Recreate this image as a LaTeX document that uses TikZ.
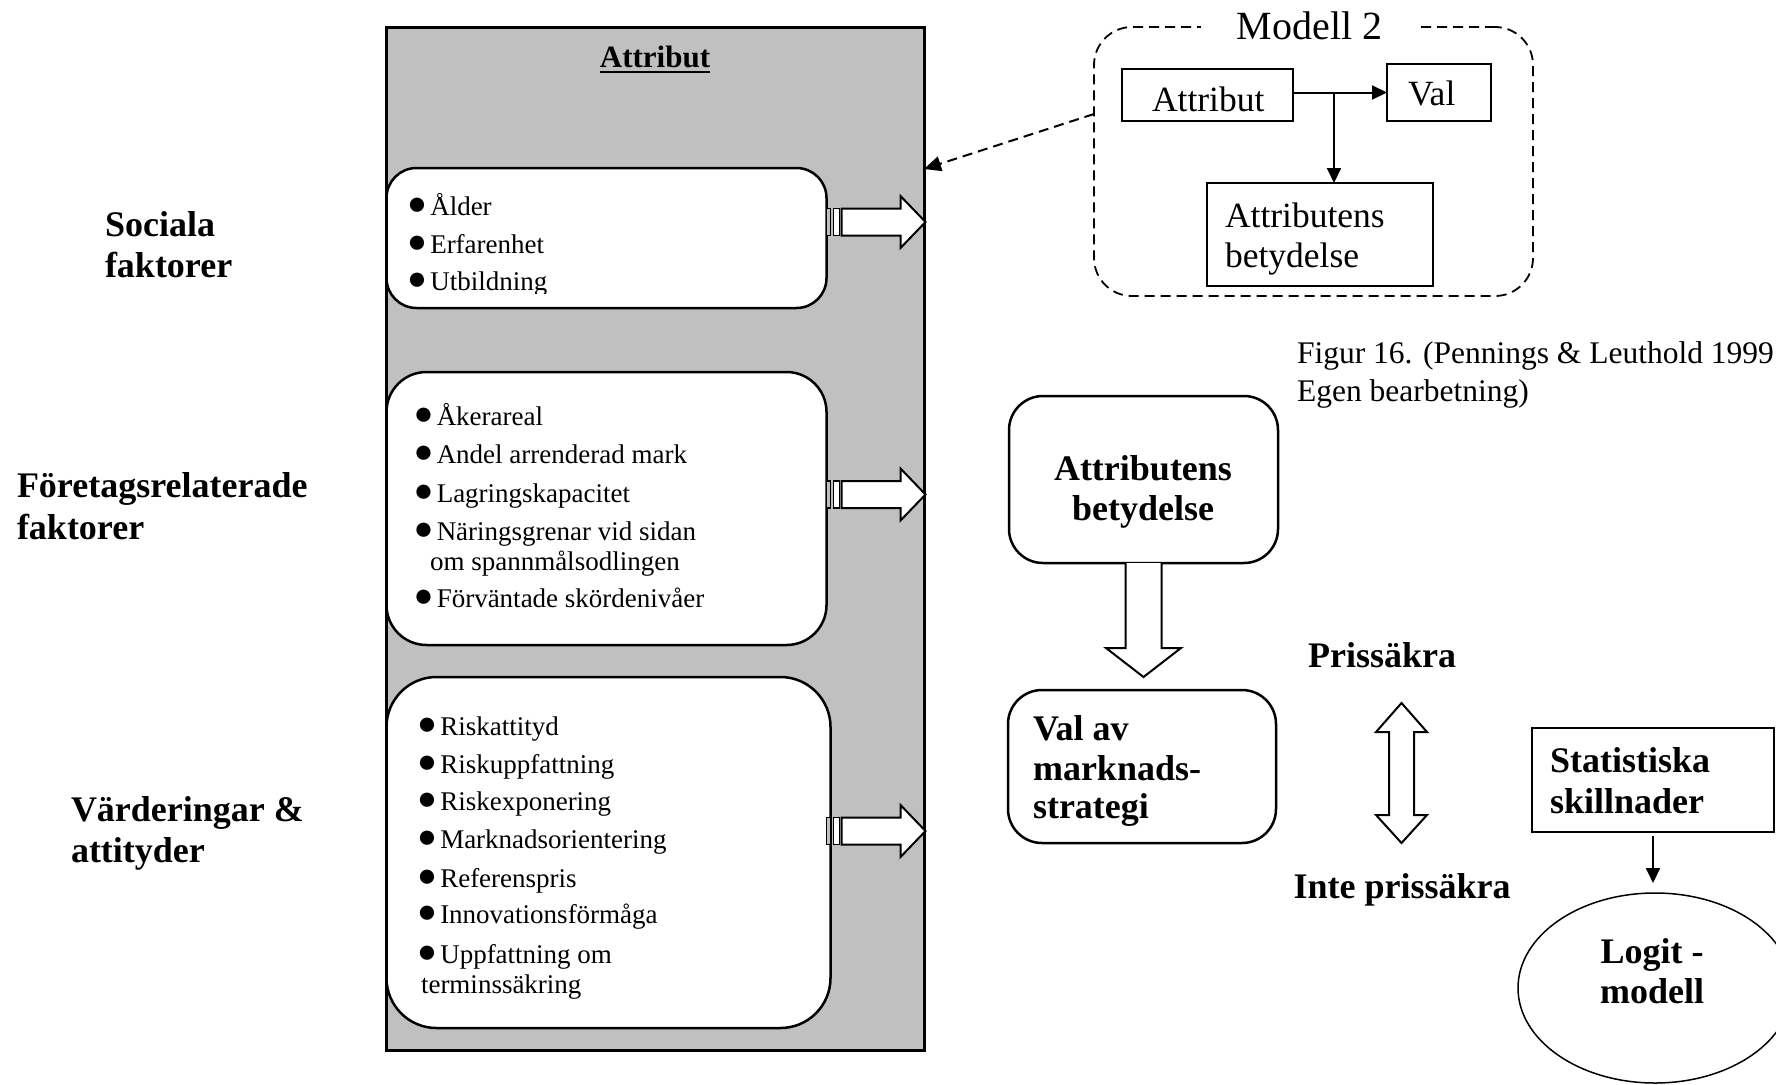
\documentclass[tikz,border=0pt]{standalone}
\usepackage{fontspec}
\setmainfont{Liberation Serif}
\usetikzlibrary{arrows.meta,shapes.geometric,calc}
\definecolor{attrgray}{HTML}{C0C0C0}
% large round list bullet followed by a space
\newcommand{\blt}{\makebox[13pt][c]{\raisebox{1pt}{\fontsize{33}{33}\selectfont ●}}\ }

\begin{document}
\begin{tikzpicture}[x=1pt,y=-1pt,
  every node/.style={inner sep=0pt, outer sep=0pt},
  txt/.style={anchor=base west, font=\fontsize{27}{32}\selectfont},
  sidelbl/.style={anchor=base west, font=\bfseries\fontsize{36}{41}\selectfont},
  boldc/.style={anchor=base, font=\bfseries\fontsize{36}{41}\selectfont},
  boldl/.style={anchor=base west, font=\bfseries\fontsize{36}{41}\selectfont},
  mtxt/.style={anchor=base west, font=\fontsize{35.5}{40}\selectfont},
  captxt/.style={anchor=base west, font=\fontsize{31.5}{36}\selectfont},
  rbox/.style={draw, line width=2.5pt, fill=white, rounded corners=#1},
  sqbox/.style={draw, line width=2pt, fill=white},
  tri/.style={-{Triangle[length=15pt,width=14pt]}},
  blockarrow/.style={draw, line width=2pt, fill=white, line join=miter},
  stripearrow/.pic={
    \draw[line width=1.5pt, fill=attrgray] (0,-13.5) rectangle (4,13.5);
    \draw[line width=1.5pt, fill=white] (7,-13.5) rectangle (13,13.5);
    \draw[line width=2pt, fill=white, line join=miter]
      (15,-13.5) -- (74,-13.5) -- (74,-26) -- (99,0) -- (74,26) -- (74,13.5) -- (15,13.5) -- cycle;
  },
]
\useasboundingbox (0,0) rectangle (1776,1084);
\clip (0,0) rectangle (1776,1084);

% ---------- attribute panel ----------
\node[draw, line width=3pt, fill=attrgray, minimum width=538pt, minimum height=1023pt] (grey) at (655,538.5) {};
\node[anchor=base, font=\bfseries\fontsize{31}{36}\selectfont] (attrtitle) at (655,67) {Attribut};
\draw[line width=2.5pt] ([yshift=-5pt]attrtitle.base west) -- ([yshift=-5pt]attrtitle.base east);

\node[rbox=30pt, minimum width=440pt, minimum height=140pt] (soc) at (606.5,238) {};
\node[rbox=40pt, minimum width=440pt, minimum height=273pt] (ftg) at (606.5,508.5) {};
\node[rbox=50pt, minimum width=444pt, minimum height=351pt] (vrd) at (608.5,852.5) {};

% social factors
\node[txt] (s1) at (410.5,215) {\blt Ålder};
\node[txt] (s2) at (410.5,253) {\blt Erfarenhet};
\begin{scope}
  \clip (380,150) rectangle (840,293);
  \node[txt] (s3) at (410.5,290) {\blt Utbildning};
\end{scope}

% company related factors
\node[txt] (f1) at (417,425) {\blt Åkerareal};
\node[txt] (f2) at (417,463) {\blt Andel arrenderad mark};
\node[txt] (f3) at (417,502) {\blt Lagringskapacitet};
\node[txt] (f4) at (417,540) {\blt Näringsgrenar vid sidan};
\node[txt] (f4b) at (430,570) {om spannmålsodlingen};
\node[txt] (f5) at (417,607) {\blt Förväntade skördenivåer};

% values and attitudes
\node[txt] (v1) at (420.5,735) {\blt Riskattityd};
\node[txt] (v2) at (420.5,773) {\blt Riskuppfattning};
\node[txt] (v3) at (420.5,810) {\blt Riskexponering};
\node[txt] (v4) at (420.5,848) {\blt Marknadsorientering};
\node[txt] (v5) at (420.5,887) {\blt Referenspris};
\node[txt] (v6) at (420.5,923) {\blt Innovationsförmåga};
\node[txt] (v7) at (420.5,963) {\blt Uppfattning om};
\node[txt] (v7b) at (421,993) {terminssäkring};

% striped block arrows out of the panel
\pic at ([yshift=16pt]soc.east) {stripearrow};
\pic at ([yshift=14pt]ftg.east) {stripearrow};
\pic at ([xshift=-4pt,yshift=21.5pt]vrd.east) {stripearrow};

% ---------- side labels ----------
\node[sidelbl] (l1a) at (105,236) {Sociala};
\node[sidelbl] (l1b) at (105,277) {faktorer};
\node[sidelbl] (l2a) at (17,497) {Företagsrelaterade};
\node[sidelbl] (l2b) at (17,539) {faktorer};
\node[sidelbl] (l3a) at (71,821) {Värderingar \&};
\node[sidelbl] (l3b) at (71,862) {attityder};

% ---------- Modell 2 ----------
\node[draw, line width=1.8pt, dash pattern=on 10pt off 6pt, rounded corners=38pt,
      minimum width=439pt, minimum height=269pt] (modell) at (1313.5,161.5) {};
\node[anchor=base, fill=white, inner xsep=36pt, inner ysep=3pt,
      font=\fontsize{40}{44}\selectfont] (mtitle) at (1309.5,39) {Modell 2};
\node[sqbox, minimum width=171pt, minimum height=52pt] (mattr) at (1207.5,95) {};
\node[sqbox, minimum width=104pt, minimum height=57pt] (mval) at (1439,92.5) {};
\node[sqbox, minimum width=226pt, minimum height=103pt] (mabet) at (1320,234.5) {};
\node[mtxt] (mattrt) at (1152,111) {Attribut};
\node[mtxt] (mvalt) at (1408,105) {Val};
\node[mtxt] (mabet1) at (1225,227) {Attributens};
\node[mtxt] (mabet2) at (1225,267) {betydelse};

\draw[line width=2pt, tri] (mattr.east |- mval.west) -- (mval.west);
\coordinate (mbr) at ($(mattr.east |- mval.west)!0.436!(mval.west)$);
\draw[line width=2pt, tri] (mbr) -- (mbr |- mabet.north);
\draw[line width=2pt, dash pattern=on 10pt off 6pt, -{Triangle[length=17pt,width=15pt]}]
  ([yshift=47.5pt]modell.west) -- ([yshift=-142pt]grey.north east);

% caption
\node[captxt] (cap1) at (1297,363) {Figur 16. (Pennings \& Leuthold 1999};
\node[captxt] (cap2) at (1297,401) {Egen bearbetning)};

% ---------- right-hand flow ----------
\node[rbox=34pt, minimum width=269pt, minimum height=167pt] (abet) at (1143.5,479.5) {};
\node[boldc] (abet1) at (1143,480) {Attributens};
\node[boldc] (abet2) at (1143,520) {betydelse};

\node[rbox=34pt, minimum width=268pt, minimum height=153pt] (valav) at (1142,766.5) {};
\node[boldl] (val1) at (1033,740) {Val av};
\node[boldl] (val2) at (1033,780) {marknads-};
\node[boldl] (val3) at (1033,818) {strategi};

\draw[blockarrow] ($(abet.south)+(-18,0)$) -- ++(0,85) -- ++(-19.5,0)
  -- ($(abet.south)+(0,114)$) -- ($(abet.south)+(37.5,85)$) -- ++(-19.5,0)
  -- ($(abet.south)+(18,0)$);

\node[boldc] (pris) at (1382,667) {Prissäkra};
\node[boldc] (inte) at (1402,898) {Inte prissäkra};
\coordinate (dbl) at (1401.5,773);
\draw[blockarrow] ($(dbl)+(0,-70)$) -- ++(25.5,29) -- ++(-13,0) -- ++(0,83) -- ++(13,0)
  -- ($(dbl)+(0,70)$) -- ++(-25.5,-28) -- ++(13,0) -- ++(0,-83) -- ++(-13,0) -- cycle;

\node[sqbox, minimum width=242pt, minimum height=104pt] (stat) at (1653,780) {};
\node[boldl] (stat1) at (1550,772) {Statistiska};
\node[boldl] (stat2) at (1550,813) {skillnader};

\node[draw, ellipse, line width=1.5pt, minimum width=274pt, minimum height=190pt] (logit) at (1655,988) {};
\node[boldc] (logit1) at (1652,963) {Logit -};
\node[boldc] (logit2) at (1652,1003) {modell};

\draw[line width=2pt, tri] ([yshift=-4pt]stat.south) -- ([yshift=10pt]stat.south |- logit.north);
\end{tikzpicture}
\end{document}
